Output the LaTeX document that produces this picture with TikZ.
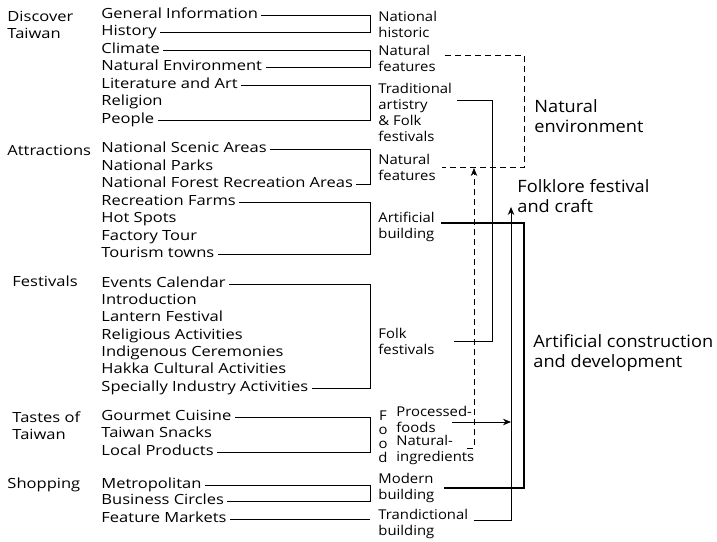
\documentclass[tikz,border=0pt]{standalone}
\usepackage{fontspec}
\setmainfont{Open Sans}
\newfontfamily\itemfont[FakeStretch=1.18]{Open Sans}
\newfontfamily\tagfont[FakeStretch=1.1]{Open Sans}
\newfontfamily\bigfont[FakeStretch=1.07]{Open Sans}
\usetikzlibrary{arrows.meta}

\begin{document}
\begin{tikzpicture}[x=1pt,y=-1pt,>={Stealth[length=8pt,width=6.5pt]},line width=0.9pt,
    item node/.style={anchor=west,inner sep=3pt,font=\itemfont\fontsize{14}{17.4}\selectfont,
      text height=1.5ex,text depth=.1ex},
    cat node/.style={anchor=west,inner sep=0pt,align=left,font=\itemfont\fontsize{14}{17.4}\selectfont},
    tag node/.style={anchor=west,inner sep=3pt,align=left,font=\tagfont\fontsize{13.5}{16}\selectfont},
    big node/.style={anchor=west,inner sep=2pt,align=left,font=\bigfont\fontsize{17}{19.5}\selectfont},
    dash line/.style={dash pattern=on 6pt off 4pt},
    thick line/.style={line width=2.6pt}]
    \useasboundingbox (0,0) rectangle (717,541);

    % categories
    \node[cat node] (disc) at (7,25) {Discover\\Taiwan};
    \node[cat node] (attr) at (7,150) {Attractions};
    \node[cat node] (fest) at (12,281) {Festivals};
    \node[cat node] (tast) at (12,426) {Tastes of\\Taiwan};
    \node[cat node] (shop) at (7,485) {Shopping};

    % items
    \node[item node] (gen) at (98,15) {General Information};
    \node[item node] (hist) at (98,32) {History};
    \node[item node] (clim) at (98,50) {Climate};
    \node[item node] (natenv) at (98,67) {Natural Environment};
    \node[item node] (lit) at (98,85) {Literature and Art};
    \node[item node] (rel) at (98,102) {Religion};
    \node[item node] (ppl) at (98,120) {People};
    \node[item node] (nsa) at (98,149) {National Scenic Areas};
    \node[item node] (np) at (98,167) {National Parks};
    \node[item node] (nfra) at (98,184) {National Forest Recreation Areas};
    \node[item node] (rf) at (98,202) {Recreation Farms};
    \node[item node] (hs) at (98,219) {Hot Spots};
    \node[item node] (ft) at (98,237) {Factory Tour};
    \node[item node] (tt) at (98,254) {Tourism towns};
    \node[item node] (ec) at (98,284) {Events Calendar};
    \node[item node] (intro) at (98,301) {Introduction};
    \node[item node] (lant) at (98,318) {Lantern Festival};
    \node[item node] (relact) at (98,336) {Religious Activities};
    \node[item node] (indig) at (98,353) {Indigenous Ceremonies};
    \node[item node] (hakka) at (98,370) {Hakka Cultural Activities};
    \node[item node] (spec) at (98,388) {Specially Industry Activities};
    \node[item node] (gc) at (98,417) {Gourmet Cuisine};
    \node[item node] (ts) at (98,434) {Taiwan Snacks};
    \node[item node] (lp) at (98,452) {Local Products};
    \node[item node] (metro) at (98,485) {Metropolitan};
    \node[item node] (bc) at (98,501) {Business Circles};
    \node[item node] (fm) at (98,519) {Feature Markets};

    % tags
    \node[tag node] (nathist) at (375,24.5) {National\\historic};
    \node[tag node] (natfeat1) at (375,58.5) {Natural\\features};
    \node[tag node] (tradart) at (375,112) {Traditional\\artistry\\\& Folk\\festivals};
    \node[tag node] (natfeat2) at (375,167.5) {Natural\\features};
    \node[tag node] (artbuild) at (375,227) {Artificial\\building};
    \node[tag node] (folkfest) at (375,341) {Folk\\festivals};
    \node[tag node,anchor=center,align=center,font=\tagfont\fontsize{13.5}{14}\selectfont] (food) at (383,437) {F\\o\\o\\d};
    \node[tag node] (proc) at (393,419) {Processed-\\foods};
    \node[tag node] (ingr) at (393,450) {Natural-\\ingredients};
    \node[tag node] (modern) at (375,488) {Modern\\building};
    \node[tag node] (tradbuild) at (375,524) {Trandictional\\building};

    % big labels
    \node[big node] (natenvlbl) at (532,116) {Natural\\environment};
    \node[big node] (folklbl) at (515,196) {Folklore festival\\and craft};
    \node[big node] (artlbl) at (531,353) {Artificial construction\\and development};

    \coordinate (brk) at (370,0);
    \coordinate (ne) at (524,0);
    \coordinate (tb) at (492,0);
    \coordinate (fa) at (511,207);
    \coordinate (na) at (474,168);
    \coordinate (pf) at (452,422);
    \coordinate (ni) at (467,448);
    \coordinate (nf1) at (445,55);
    \coordinate (nf2) at ([xshift=3pt]natfeat2.east);
    \coordinate (ta) at ([xshift=2pt,yshift=12pt]tradart.east);
    \coordinate (ff) at ([xshift=16pt]folkfest.east);
    \coordinate (ab) at ([xshift=3pt,yshift=4pt]artbuild.east);
    \coordinate (mb) at ([xshift=6pt]modern.east);
    \coordinate (tbd) at ([xshift=2pt,yshift=4pt]tradbuild.east);

    % brackets
    \draw (gen.east) -- (gen.east -| brk) -- (hist.east -| brk) -- (hist.east);
    \draw (clim.east) -- (clim.east -| brk) -- (natenv.east -| brk) -- (natenv.east);
    \draw (lit.east) -- (lit.east -| brk) -- (ppl.east -| brk) -- (ppl.east);
    \draw (nsa.east) -- (nsa.east -| brk) -- (nfra.east -| brk) -- (nfra.east);
    \draw (rf.east) -- (rf.east -| brk) -- (tt.east -| brk) -- (tt.east);
    \draw (ec.east) -- (ec.east -| brk) -- (spec.east -| brk) -- (spec.east);
    \draw (gc.east) -- (gc.east -| brk) -- (lp.east -| brk) -- (lp.east);
    \draw (metro.east) -- (metro.east -| brk) -- (bc.east -| brk) -- (bc.east);
    \draw (fm.east) -- (fm.east -| brk);

    % groups on the right
    \draw[dash line] (nf1) -- (nf1 -| ne) -- (nf2 -| ne) -- (nf2);
    \draw (ta) -- (ta -| tb) -- (ff -| tb) -- (ff);
    \draw[thick line] (ab) -- (ab -| ne) -- (mb -| ne) -- (mb);
    \draw[->] (tbd) -- (tbd -| fa) -- (fa);
    \draw[->] (pf) -- (pf -| fa);
    \draw[dash line,->] (ni) -- (ni -| na) -- (na);
\end{tikzpicture}
\end{document}
